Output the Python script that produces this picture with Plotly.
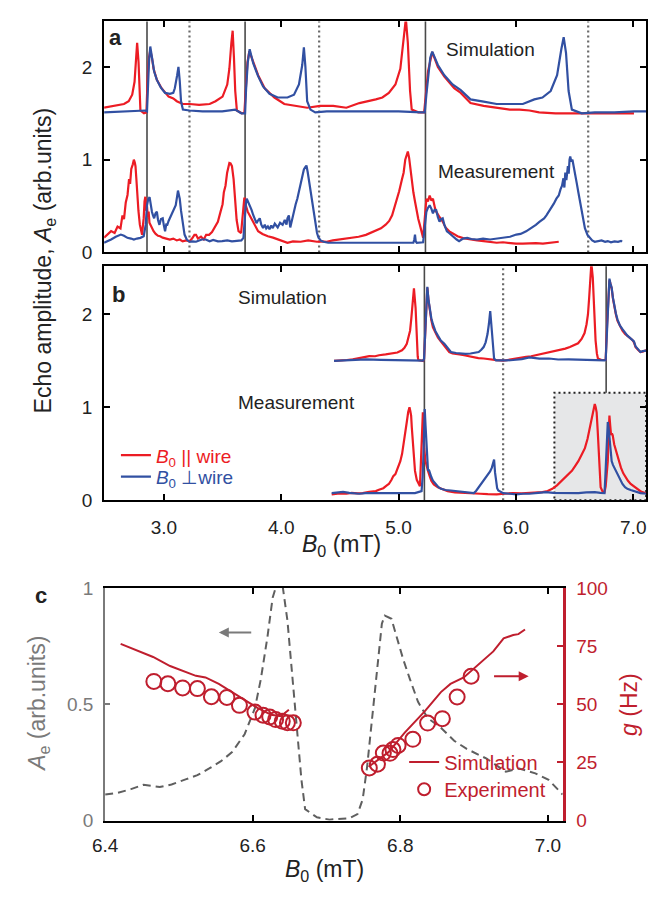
import plotly.graph_objects as go

# ---------------- data ----------------
# (B0 [mT], echo amplitude) samples, panel a
A_SIM_PAR = [(2.49,1.56),(2.58,1.58),(2.66,1.60),(2.70,1.63),(2.73,1.70),(2.75,1.84),(2.761,2.09),(2.772,2.26),(2.784,2.05),(2.795,1.70),(2.80,1.53),(2.83,1.50),(2.851,1.51),(2.862,1.90),(2.873,2.10),(2.884,2.18),(2.898,2.10),(2.912,1.98),(2.94,1.86),(2.98,1.77),(3.04,1.68),(3.08,1.66),(3.11,1.63),(3.16,1.60),(3.22,1.60),(3.30,1.59),(3.39,1.60),(3.44,1.63),(3.50,1.68),(3.54,1.81),(3.558,1.98),(3.575,2.26),(3.586,2.39),(3.597,2.10),(3.608,1.74),(3.622,1.53),(3.664,1.50),(3.686,1.505),(3.697,1.75),(3.712,2.05),(3.728,2.17),(3.761,2.05),(3.803,1.91),(3.859,1.77),(3.90,1.72),(3.942,1.67),(4.026,1.60),(4.11,1.58),(4.221,1.56),(4.332,1.58),(4.443,1.58),(4.555,1.56),(4.666,1.61),(4.806,1.65),(4.862,1.67),(4.917,1.72),(4.973,1.81),(5.015,1.98),(5.043,2.26),(5.062,2.52),(5.079,2.26),(5.098,1.74),(5.112,1.54),(5.168,1.51),(5.218,1.51),(5.233,1.75),(5.251,1.95),(5.287,2.16),(5.335,2.00),(5.39,1.895),(5.474,1.77),(5.53,1.72),(5.613,1.61),(5.725,1.58),(5.836,1.56),(5.948,1.54),(6.031,1.54),(6.115,1.53),(6.198,1.51),(6.337,1.50),(6.505,1.50),(6.672,1.50),(6.839,1.50),(7.006,1.50)]
A_SIM_PERP = [(2.49,1.51),(2.66,1.52),(2.842,1.53),(2.856,1.52),(2.862,1.74),(2.873,2.05),(2.884,2.22),(2.898,2.09),(2.917,1.95),(2.94,1.86),(2.973,1.78),(3.01,1.72),(3.051,1.71),(3.08,1.72),(3.093,1.77),(3.113,1.91),(3.124,2.00),(3.135,1.85),(3.146,1.63),(3.162,1.54),(3.218,1.53),(3.329,1.52),(3.497,1.52),(3.608,1.54),(3.66,1.50),(3.686,1.50),(3.692,1.50),(3.70,1.75),(3.715,2.05),(3.731,2.19),(3.761,2.04),(3.803,1.90),(3.845,1.79),(3.90,1.71),(3.97,1.67),(4.053,1.67),(4.109,1.70),(4.151,1.81),(4.179,2.02),(4.193,2.21),(4.206,2.00),(4.221,1.63),(4.249,1.54),(4.29,1.51),(4.388,1.52),(4.555,1.52),(4.806,1.52),(5.0,1.52),(5.195,1.51),(5.223,1.51),(5.237,1.70),(5.251,1.91),(5.27,2.10),(5.287,2.165),(5.335,2.02),(5.39,1.91),(5.46,1.81),(5.53,1.75),(5.613,1.65),(5.725,1.625),(5.836,1.60),(5.948,1.60),(6.059,1.60),(6.157,1.65),(6.226,1.67),(6.296,1.74),(6.351,1.91),(6.387,2.19),(6.407,2.32),(6.427,2.15),(6.449,1.74),(6.477,1.54),(6.561,1.50),(6.672,1.51),(6.839,1.51),(7.006,1.52),(7.11,1.52)]
A_MEAS_PAR = [(2.49,0.16),(2.52,0.20),(2.55,0.23),(2.58,0.21),(2.605,0.28),(2.63,0.26),(2.647,0.40),(2.66,0.36),(2.675,0.54),(2.69,0.62),(2.703,0.79),(2.712,0.74),(2.722,0.90),(2.735,0.95),(2.744,1.00),(2.752,0.97),(2.758,0.93),(2.765,0.80),(2.772,0.65),(2.783,0.45),(2.795,0.30),(2.805,0.22),(2.814,0.19),(2.822,0.30),(2.828,0.37),(2.835,0.55),(2.842,0.60),(2.85,0.45),(2.856,0.50),(2.863,0.38),(2.87,0.44),(2.877,0.32),(2.884,0.30),(2.898,0.25),(2.912,0.23),(2.93,0.20),(2.95,0.18),(2.968,0.175),(2.99,0.16),(3.02,0.15),(3.051,0.14),(3.08,0.15),(3.11,0.13),(3.135,0.14),(3.16,0.12),(3.19,0.13),(3.218,0.12),(3.24,0.15),(3.26,0.19),(3.274,0.19),(3.29,0.15),(3.316,0.17),(3.34,0.14),(3.36,0.19),(3.385,0.19),(3.41,0.22),(3.441,0.28),(3.46,0.33),(3.483,0.44),(3.50,0.52),(3.511,0.65),(3.525,0.72),(3.539,0.86),(3.548,0.92),(3.558,0.965),(3.568,0.96),(3.58,0.93),(3.594,0.79),(3.608,0.54),(3.62,0.35),(3.636,0.23),(3.648,0.22),(3.658,0.21),(3.668,0.35),(3.678,0.51),(3.685,0.58),(3.692,0.58),(3.70,0.50),(3.714,0.44),(3.73,0.40),(3.747,0.37),(3.77,0.30),(3.803,0.23),(3.84,0.20),(3.886,0.175),(3.93,0.16),(3.97,0.14),(4.01,0.12),(4.053,0.105),(4.10,0.12),(4.165,0.116),(4.23,0.13),(4.304,0.116),(4.35,0.12),(4.387,0.116),(4.44,0.13),(4.499,0.14),(4.55,0.15),(4.61,0.16),(4.66,0.17),(4.722,0.19),(4.76,0.21),(4.806,0.23),(4.85,0.26),(4.89,0.30),(4.92,0.34),(4.945,0.40),(4.965,0.48),(4.987,0.58),(5.005,0.66),(5.029,0.79),(5.043,0.86),(5.057,1.00),(5.068,1.05),(5.079,1.088),(5.09,1.02),(5.098,0.93),(5.11,0.78),(5.126,0.649),(5.14,0.55),(5.154,0.44),(5.168,0.36),(5.181,0.30),(5.195,0.22),(5.209,0.158),(5.222,0.35),(5.237,0.579),(5.25,0.55),(5.265,0.614),(5.28,0.56),(5.293,0.579),(5.31,0.48),(5.321,0.44),(5.35,0.38),(5.376,0.333),(5.40,0.27),(5.432,0.228),(5.47,0.20),(5.502,0.175),(5.55,0.155),(5.613,0.14),(5.67,0.13),(5.725,0.123),(5.78,0.115),(5.836,0.105),(5.89,0.11),(5.948,0.10),(6.0,0.095),(6.059,0.095),(6.12,0.10),(6.17,0.10),(6.23,0.095),(6.281,0.10),(6.33,0.11),(6.365,0.116)]
A_MEAS_PERP = [(2.49,0.105),(2.52,0.12),(2.55,0.14),(2.59,0.17),(2.633,0.193),(2.66,0.18),(2.689,0.158),(2.72,0.15),(2.744,0.14),(2.77,0.15),(2.80,0.158),(2.828,0.175),(2.845,0.30),(2.856,0.509),(2.866,0.57),(2.878,0.596),(2.888,0.50),(2.898,0.439),(2.907,0.40),(2.917,0.368),(2.928,0.42),(2.94,0.439),(2.95,0.35),(2.962,0.298),(2.975,0.36),(2.99,0.368),(3.0,0.29),(3.01,0.228),(3.02,0.30),(3.029,0.298),(3.04,0.34),(3.051,0.368),(3.065,0.40),(3.079,0.439),(3.09,0.47),(3.101,0.509),(3.112,0.60),(3.12,0.667),(3.128,0.62),(3.135,0.579),(3.146,0.45),(3.157,0.333),(3.166,0.25),(3.176,0.193),(3.195,0.14),(3.218,0.116),(3.245,0.12),(3.274,0.116),(3.30,0.13),(3.325,0.14),(3.357,0.14),(3.39,0.12),(3.42,0.135),(3.46,0.12),(3.497,0.123),(3.54,0.13),(3.58,0.12),(3.615,0.125),(3.636,0.123),(3.66,0.13),(3.678,0.158),(3.69,0.40),(3.70,0.55),(3.706,0.579),(3.72,0.54),(3.733,0.509),(3.747,0.46),(3.761,0.404),(3.775,0.35),(3.789,0.316),(3.80,0.34),(3.817,0.368),(3.83,0.30),(3.845,0.263),(3.86,0.30),(3.872,0.26),(3.886,0.281),(3.90,0.25),(3.915,0.29),(3.928,0.263),(3.945,0.31),(3.97,0.27),(3.99,0.32),(4.012,0.298),(4.03,0.35),(4.045,0.30),(4.053,0.368),(4.065,0.40),(4.077,0.27),(4.087,0.333),(4.098,0.40),(4.109,0.439),(4.123,0.52),(4.137,0.579),(4.15,0.65),(4.165,0.719),(4.18,0.82),(4.193,0.895),(4.205,0.92),(4.215,0.937),(4.225,0.87),(4.235,0.789),(4.25,0.65),(4.263,0.509),(4.277,0.40),(4.29,0.298),(4.305,0.21),(4.318,0.158),(4.34,0.125),(4.36,0.116),(4.40,0.105),(4.443,0.105),(4.55,0.105),(4.70,0.105),(4.85,0.105),(5.0,0.105),(5.126,0.105),(5.134,0.14),(5.14,0.193),(5.146,0.12),(5.155,0.105),(5.209,0.11),(5.222,0.25),(5.237,0.439),(5.25,0.48),(5.265,0.509),(5.28,0.47),(5.293,0.421),(5.307,0.46),(5.321,0.456),(5.335,0.38),(5.349,0.333),(5.362,0.36),(5.376,0.368),(5.39,0.30),(5.412,0.228),(5.43,0.21),(5.446,0.193),(5.46,0.17),(5.474,0.158),(5.495,0.14),(5.516,0.123),(5.55,0.15),(5.585,0.158),(5.62,0.145),(5.669,0.14),(5.72,0.15),(5.78,0.14),(5.84,0.15),(5.892,0.158),(5.95,0.17),(6.003,0.193),(6.04,0.20),(6.087,0.228),(6.13,0.26),(6.17,0.298),(6.20,0.33),(6.24,0.368),(6.26,0.40),(6.281,0.439),(6.30,0.48),(6.323,0.526),(6.345,0.58),(6.365,0.614),(6.38,0.68),(6.393,0.719),(6.405,0.80),(6.413,0.70),(6.421,0.86),(6.43,0.78),(6.443,0.93),(6.45,0.85),(6.457,1.00),(6.463,1.035),(6.472,0.98),(6.482,1.0),(6.492,0.93),(6.504,0.86),(6.518,0.75),(6.532,0.649),(6.546,0.54),(6.56,0.439),(6.574,0.33),(6.588,0.263),(6.61,0.19),(6.63,0.158),(6.65,0.13),(6.672,0.116),(6.70,0.12),(6.73,0.13),(6.76,0.115),(6.783,0.123),(6.81,0.11),(6.84,0.12),(6.87,0.115),(6.895,0.125),(6.905,0.116)]

# panel b
B_SIM_PAR = [(4.45,1.50),(4.513,1.502),(4.56,1.51),(4.61,1.516),(4.68,1.535),(4.75,1.551),(4.80,1.55),(4.833,1.561),(4.89,1.57),(4.945,1.579),(4.99,1.59),(5.029,1.614),(5.05,1.64),(5.07,1.684),(5.085,1.75),(5.098,1.825),(5.108,1.95),(5.118,2.07),(5.131,2.281),(5.145,2.07),(5.156,1.684),(5.163,1.55),(5.168,1.509),(5.19,1.505),(5.209,1.50),(5.217,1.52),(5.229,1.895),(5.237,2.15),(5.245,2.288),(5.255,2.15),(5.265,2.035),(5.279,1.94),(5.293,1.86),(5.314,1.80),(5.335,1.754),(5.36,1.71),(5.39,1.667),(5.41,1.63),(5.432,1.596),(5.46,1.58),(5.488,1.572),(5.52,1.57),(5.558,1.561),(5.60,1.55),(5.641,1.537),(5.68,1.53),(5.725,1.526),(5.78,1.515),(5.836,1.509),(5.892,1.502),(5.93,1.51),(5.976,1.526),(6.03,1.535),(6.087,1.544),(6.13,1.55),(6.17,1.561),(6.21,1.57),(6.24,1.579),(6.29,1.59),(6.337,1.607),(6.38,1.62),(6.421,1.632),(6.46,1.65),(6.49,1.667),(6.53,1.69),(6.56,1.737),(6.585,1.80),(6.602,1.895),(6.614,2.0),(6.624,2.175),(6.635,2.40),(6.643,2.55),(6.655,2.40),(6.663,2.10),(6.672,1.85),(6.679,1.719),(6.69,1.58),(6.699,1.526),(6.73,1.51),(6.755,1.509),(6.765,1.51),(6.777,1.895),(6.787,2.20),(6.797,2.368),(6.806,2.33),(6.816,2.281),(6.827,2.17),(6.839,2.07),(6.852,2.00),(6.866,1.93),(6.887,1.87),(6.908,1.825),(6.93,1.79),(6.95,1.772),(6.97,1.75),(6.992,1.726),(7.006,1.70),(7.02,1.649),(7.04,1.62),(7.061,1.596),(7.08,1.60),(7.103,1.614),(7.11,1.614)]
B_SIM_PERP = [(4.45,1.50),(4.60,1.505),(4.722,1.516),(4.85,1.512),(5.0,1.509),(5.1,1.505),(5.209,1.502),(5.217,1.52),(5.229,1.895),(5.237,2.15),(5.245,2.298),(5.255,2.16),(5.265,2.05),(5.279,1.96),(5.293,1.895),(5.314,1.82),(5.335,1.772),(5.36,1.72),(5.39,1.684),(5.42,1.63),(5.446,1.596),(5.49,1.585),(5.53,1.579),(5.57,1.575),(5.613,1.58),(5.65,1.585),(5.683,1.596),(5.705,1.62),(5.725,1.649),(5.742,1.70),(5.758,1.789),(5.77,1.90),(5.781,2.035),(5.79,1.90),(5.797,1.789),(5.805,1.62),(5.814,1.526),(5.83,1.505),(5.864,1.502),(5.92,1.505),(5.976,1.51),(6.05,1.52),(6.115,1.537),(6.2,1.525),(6.281,1.526),(6.36,1.515),(6.449,1.516),(6.55,1.51),(6.672,1.509),(6.72,1.505),(6.755,1.505),(6.765,1.51),(6.777,1.895),(6.787,2.22),(6.797,2.386),(6.806,2.33),(6.816,2.29),(6.827,2.18),(6.839,2.08),(6.852,2.01),(6.866,1.945),(6.887,1.88),(6.908,1.842),(6.93,1.80),(6.95,1.772),(6.97,1.75),(6.992,1.73),(7.006,1.71),(7.02,1.655),(7.04,1.62),(7.061,1.596),(7.08,1.605),(7.103,1.61),(7.11,1.61)]
B_MEAS_PAR = [(4.43,0.063),(4.48,0.07),(4.555,0.07),(4.60,0.08),(4.65,0.075),(4.694,0.077),(4.75,0.09),(4.806,0.098),(4.833,0.112),(4.87,0.13),(4.90,0.16),(4.917,0.175),(4.94,0.22),(4.955,0.26),(4.973,0.281),(4.99,0.33),(5.003,0.38),(5.015,0.421),(5.03,0.50),(5.043,0.632),(5.057,0.72),(5.07,0.842),(5.082,0.95),(5.093,1.0),(5.1,0.96),(5.107,0.912),(5.113,0.78),(5.12,0.632),(5.13,0.45),(5.14,0.316),(5.155,0.22),(5.168,0.175),(5.182,0.15),(5.19,0.40),(5.196,0.632),(5.203,0.85),(5.207,0.947),(5.212,0.78),(5.218,0.56),(5.229,0.421),(5.24,0.36),(5.251,0.316),(5.265,0.26),(5.279,0.211),(5.30,0.17),(5.335,0.14),(5.37,0.12),(5.418,0.098),(5.48,0.085),(5.558,0.077),(5.62,0.07),(5.697,0.07),(5.76,0.065),(5.836,0.063),(5.90,0.07),(5.976,0.077),(6.05,0.075),(6.115,0.077),(6.17,0.08),(6.226,0.088),(6.27,0.10),(6.31,0.123),(6.35,0.16),(6.393,0.211),(6.43,0.26),(6.477,0.316),(6.50,0.36),(6.532,0.421),(6.56,0.49),(6.588,0.561),(6.61,0.66),(6.63,0.772),(6.642,0.85),(6.652,0.912),(6.662,0.98),(6.672,1.035),(6.68,1.00),(6.688,0.947),(6.697,0.75),(6.705,0.491),(6.713,0.30),(6.722,0.14),(6.74,0.09),(6.755,0.088),(6.765,0.15),(6.775,0.30),(6.783,0.421),(6.79,0.70),(6.797,0.912),(6.804,0.80),(6.811,0.702),(6.818,0.72),(6.825,0.70),(6.838,0.60),(6.853,0.526),(6.875,0.43),(6.895,0.351),(6.915,0.29),(6.936,0.246),(6.955,0.21),(6.978,0.175),(7.006,0.15),(7.034,0.123),(7.07,0.09),(7.103,0.077),(7.11,0.075)]
B_MEAS_PERP = [(4.43,0.077),(4.47,0.085),(4.527,0.09),(4.58,0.08),(4.666,0.07),(4.72,0.077),(4.80,0.08),(4.90,0.077),(5.0,0.077),(5.07,0.08),(5.14,0.077),(5.196,0.098),(5.205,0.25),(5.212,0.491),(5.218,0.80),(5.223,0.982),(5.23,0.80),(5.237,0.632),(5.244,0.45),(5.251,0.316),(5.258,0.33),(5.265,0.30),(5.279,0.25),(5.293,0.211),(5.307,0.19),(5.321,0.175),(5.34,0.14),(5.362,0.123),(5.40,0.11),(5.446,0.105),(5.50,0.095),(5.558,0.088),(5.60,0.08),(5.641,0.077),(5.66,0.10),(5.683,0.14),(5.705,0.18),(5.725,0.211),(5.745,0.25),(5.767,0.281),(5.78,0.31),(5.795,0.351),(5.805,0.40),(5.814,0.439),(5.822,0.30),(5.831,0.20),(5.84,0.13),(5.85,0.105),(5.892,0.077),(5.95,0.07),(6.003,0.063),(6.06,0.07),(6.115,0.07),(6.19,0.08),(6.254,0.088),(6.32,0.08),(6.393,0.077),(6.46,0.077),(6.532,0.077),(6.60,0.085),(6.672,0.088),(6.72,0.08),(6.755,0.077),(6.762,0.25),(6.769,0.491),(6.776,0.70),(6.783,0.842),(6.79,0.78),(6.797,0.702),(6.806,0.55),(6.816,0.421),(6.827,0.38),(6.839,0.351),(6.852,0.31),(6.866,0.281),(6.887,0.22),(6.908,0.175),(6.93,0.14),(6.95,0.123),(6.978,0.11),(7.006,0.098),(7.035,0.085),(7.061,0.077),(7.085,0.075),(7.103,0.07),(7.11,0.07)]

# resonance fields marked with vertical lines
A_SOLID = [2.856, 3.692, 5.229]
A_DOTTED = [3.218, 4.323, 6.616]
B_SOLID = [5.22, 6.769]
B_DOTTED = [5.891]
ZOOM_BOX = (6.328, 7.11, 0.0, 1.158)   # x0, x1, y0, y1 of the region expanded in panel c

# panel c: echo amplitude (dashed) and coupling g
C_AMP = [(6.40,0.112),(6.417,0.119),(6.435,0.135),(6.452,0.154),(6.474,0.144),(6.49,0.155),(6.510,0.178),(6.525,0.195),(6.541,0.224),(6.557,0.255),(6.572,0.294),(6.589,0.371),(6.603,0.483),(6.611,0.608),(6.620,0.790),(6.627,0.958),(6.634,1.03),(6.640,1.02),(6.647,0.860),(6.653,0.650),(6.660,0.399),(6.666,0.175),(6.671,0.049),(6.687,0.014),(6.704,0.004),(6.731,0.010),(6.742,0.028),(6.749,0.091),(6.755,0.231),(6.762,0.441),(6.768,0.650),(6.775,0.846),(6.779,0.881),(6.788,0.867),(6.795,0.790),(6.804,0.692),(6.813,0.608),(6.824,0.510),(6.837,0.441),(6.855,0.399),(6.873,0.343),(6.890,0.308),(6.917,0.266),(6.943,0.210),(6.961,0.224),(6.983,0.203),(7.001,0.175),(7.02,0.112)]
C_SIM_LEFT = [(6.421,75.9),(6.448,72.3),(6.465,70.3),(6.488,66.4),(6.505,64.3),(6.523,62.2),(6.536,61.5),(6.554,58.7),(6.572,55.2),(6.589,51.7),(6.607,48.3),(6.625,45.5),(6.638,44.8),(6.649,47.6)]
C_SIM_RIGHT = [(6.757,23.1),(6.784,29.4),(6.806,37.8),(6.833,46.9),(6.855,55.2),(6.868,58.7),(6.886,61.5),(6.904,66.4),(6.926,72.7),(6.940,78.3),(6.953,79.7),(6.960,80.1),(6.969,82.1)]
C_EXP_B = [6.466,6.485,6.505,6.525,6.544,6.565,6.582,6.603,6.614,6.623,6.631,6.640,6.647,6.655,
           6.758,6.769,6.777,6.786,6.790,6.797,6.817,6.837,6.857,6.877,6.896]
C_EXP_G = [59.8,58.8,57.0,56.7,53.2,52.9,49.5,46.6,45.3,44.5,43.4,42.7,42.0,42.0,
           22.6,24.2,29.0,28.9,30.5,32.3,34.9,41.9,43.8,53.1,62.0]

# ---------------- style ----------------
RED = "#ec1c24"
BLUE = "#3150a2"
DARKRED = "#bf1e2e"
GREY = "#7a7a7a"
FONT = "Liberation Sans, Arial, Helvetica, sans-serif"
W, H = 660, 897


def xy(pairs):
    return [p[0] for p in pairs], [p[1] for p in pairs]


fig = go.Figure()

line_w = 2.2
for pairs, col, ax, name, leg in [
    (A_SIM_PAR, RED, 1, None, None), (A_SIM_PERP, BLUE, 1, None, None),
    (A_MEAS_PAR, RED, 1, None, None), (A_MEAS_PERP, BLUE, 1, None, None),
    (B_SIM_PAR, RED, 2, None, None), (B_SIM_PERP, BLUE, 2, None, None),
    (B_MEAS_PAR, RED, 2, f"<span style='color:{RED}'><i>B</i><sub>0</sub> || wire</span>", "legend"),
    (B_MEAS_PERP, BLUE, 2, f"<span style='color:{BLUE}'><i>B</i><sub>0</sub> \u22a5wire</span>", "legend3"),
]:
    x, y = xy(pairs)
    fig.add_trace(go.Scatter(
        x=x, y=y, mode="lines", line=dict(color=col, width=line_w),
        xaxis="x" if ax == 1 else "x2", yaxis="y" if ax == 1 else "y2",
        name=name, showlegend=leg is not None, legend=leg or "legend", hoverinfo="skip"))

# panel c
cx, cy = xy(C_AMP)
fig.add_trace(go.Scatter(x=cx, y=cy, mode="lines", xaxis="x3", yaxis="y3",
                         line=dict(color="#5f5f5f", width=2, dash="8px,5px"),
                         showlegend=False, hoverinfo="skip"))
lx, ly = xy(C_SIM_LEFT)
rx, ry = xy(C_SIM_RIGHT)
fig.add_trace(go.Scatter(x=lx + [None] + rx, y=ly + [None] + ry, mode="lines",
                         xaxis="x3", yaxis="y4", line=dict(color=DARKRED, width=2),
                         name="Simulation", legend="legend2", hoverinfo="skip"))
fig.add_trace(go.Scatter(x=C_EXP_B, y=C_EXP_G, mode="markers", xaxis="x3", yaxis="y4",
                         marker=dict(symbol="circle-open", size=15, color=DARKRED,
                                     line=dict(width=2, color=DARKRED)),
                         name="Experiment", legend="legend4", hoverinfo="skip"))

# ---------------- axes ----------------
XD_AB = [93 / W, 646 / W]
YD_A = [1 - 248.3 / H, 1 - 11.7 / H]
YD_B = [1 - 502 / H, 1 - 262.3 / H]
XD_C = [94 / W, 560.7 / W]
YD_C = [1 - 830 / H, 1 - 591.7 / H]

box = dict(showline=True, linecolor="black", linewidth=2, mirror="ticks",
           ticks="inside", ticklen=6, tickwidth=2, tickcolor="black",
           showgrid=False, zeroline=False,
           tickfont=dict(family=FONT, size=19, color="#222"))

fig.update_layout(
    xaxis=dict(domain=XD_AB, range=[2.491, 7.111], tick0=3, dtick=1,
               showticklabels=False, anchor="y", **box),
    yaxis=dict(domain=YD_A, range=[0, 2.49], tickvals=[0, 1, 2], anchor="x",
               ticklabelstandoff=6, **box),
    xaxis2=dict(domain=XD_AB, range=[2.491, 7.111], tick0=3, dtick=1,
                tickformat=".1f", anchor="y2", ticklabelstandoff=9, **box),
    yaxis2=dict(domain=YD_B, range=[0, 2.52], tickvals=[0, 1, 2], anchor="x2",
                ticklabelstandoff=6, **box),
    xaxis3=dict(domain=XD_C, range=[6.4, 7.02], tickvals=[6.4, 6.6, 6.8, 7.0],
                tickformat=".1f", anchor="y3", ticklabelstandoff=7, **box),
    yaxis3=dict(domain=YD_C, range=[0, 1], tickvals=[0, 0.5, 1], ticktext=["0", "0.5", "1"],
                anchor="x3", showline=True, linecolor=GREY, linewidth=2, ticks="inside",
                ticklen=5, tickwidth=2, tickcolor=GREY, showgrid=False, zeroline=False,
                ticklabelstandoff=6, tickfont=dict(family=FONT, size=19, color=GREY)),
    yaxis4=dict(domain=YD_C, range=[0, 100], tickvals=[0, 25, 50, 75, 100], overlaying="y3",
                side="right", anchor="x3", showline=True, linecolor=DARKRED, linewidth=2.5,
                ticks="inside", ticklen=6, tickwidth=2, tickcolor=DARKRED, showgrid=False,
                zeroline=False, ticklabelstandoff=7,
                tickfont=dict(family=FONT, size=19, color=DARKRED)),
)

# ---------------- shapes ----------------
shapes = []
x0, x1, y0, y1 = ZOOM_BOX
shapes.append(dict(type="rect", xref="x2", yref="y2", x0=x0, x1=x1, y0=y0, y1=y1,
                   fillcolor="#e6e7e8", line=dict(color="#222", width=2, dash="2px,3px"),
                   layer="below"))
for xs, xr, yr, style in [(A_SOLID, "x", "y domain", "solid"), (A_DOTTED, "x", "y domain", "dot"),
                          (B_SOLID, "x2", "y2 domain", "solid"), (B_DOTTED, "x2", "y2 domain", "dot")]:
    for xv in xs:
        if style == "solid":
            ln = dict(color="#4a4a4a", width=1.6)
        else:
            ln = dict(color="#6a6a6a", width=2.2, dash="2px,3px")
        shapes.append(dict(type="line", xref=xr, yref=yr, x0=xv, x1=xv, y0=0, y1=1,
                           line=ln, layer="below"))
fig.update_layout(shapes=shapes)

# ---------------- text ----------------
def txt(x, y, s, size=19, color="#222", **kw):
    d = dict(x=x / W, y=1 - y / H, xref="paper", yref="paper", text=s, showarrow=False,
             font=dict(family=FONT, size=size, color=color), xanchor="center", yanchor="middle")
    d.update(kw)
    return d

ann = [
    txt(105, 28, "<b>a</b>", size=22),
    txt(108, 291, "<b>b</b>", size=22),
    txt(29, 600, "<b>c</b>", size=22),
    txt(487, 40, "Simulation"),
    txt(493, 165, "Measurement"),
    txt(275, 294, "Simulation"),
    txt(289, 402, "Measurement"),
    txt(32, 256, "Echo amplitude, <i>A</i><sub>e</sub> (arb.units)", size=23, textangle=-90),
    txt(335, 548, "<i>B</i><sub>0</sub> (mT)", size=23),
    txt(318, 881, "<i>B</i><sub>0</sub> (mT)", size=23),
    txt(26, 710, "<i>A</i><sub>e</sub> (arb.units)", size=23, color=GREY, textangle=-90),
    txt(629, 711, "<i>g</i> (Hz)", size=23, color=DARKRED, textangle=-90),
    # direction arrows in panel c
    dict(x=6.554, y=0.808, ax=6.6, ay=0.808, xref="x3", yref="y3", axref="x3", ayref="y3",
         text="", showarrow=True, arrowhead=2, arrowsize=1, arrowwidth=2, arrowcolor=GREY),
    dict(x=6.974, y=62, ax=6.925, ay=62, xref="x3", yref="y4", axref="x3", ayref="y4",
         text="", showarrow=True, arrowhead=2, arrowsize=1, arrowwidth=2, arrowcolor=DARKRED),
]
fig.update_layout(annotations=ann)

legend_common = dict(xanchor="left", yanchor="middle", bgcolor="rgba(0,0,0,0)",
                     tracegroupgap=0, itemwidth=30)
fig.update_layout(
    width=W, height=H, margin=dict(l=0, r=0, t=0, b=0),
    paper_bgcolor="white", plot_bgcolor="rgba(0,0,0,0)",
    font=dict(family=FONT, size=19, color="#222"),
    legend=dict(x=105 / W, y=1 - 456 / H, font=dict(family=FONT, size=19), **legend_common),
    legend3=dict(x=105 / W, y=1 - 478 / H, font=dict(family=FONT, size=19), **legend_common),
    legend2=dict(x=399 / W, y=1 - 770 / H, font=dict(family=FONT, size=20, color=DARKRED),
                 **legend_common),
    legend4=dict(x=399 / W, y=1 - 798 / H, font=dict(family=FONT, size=20, color=DARKRED),
                 itemsizing="constant", **legend_common),
)

# the page body gets no default margin so the figure sits at the window origin
fig.write_html("out.html",
               post_script="document.body.style.margin='0';document.body.style.overflow='hidden';")
